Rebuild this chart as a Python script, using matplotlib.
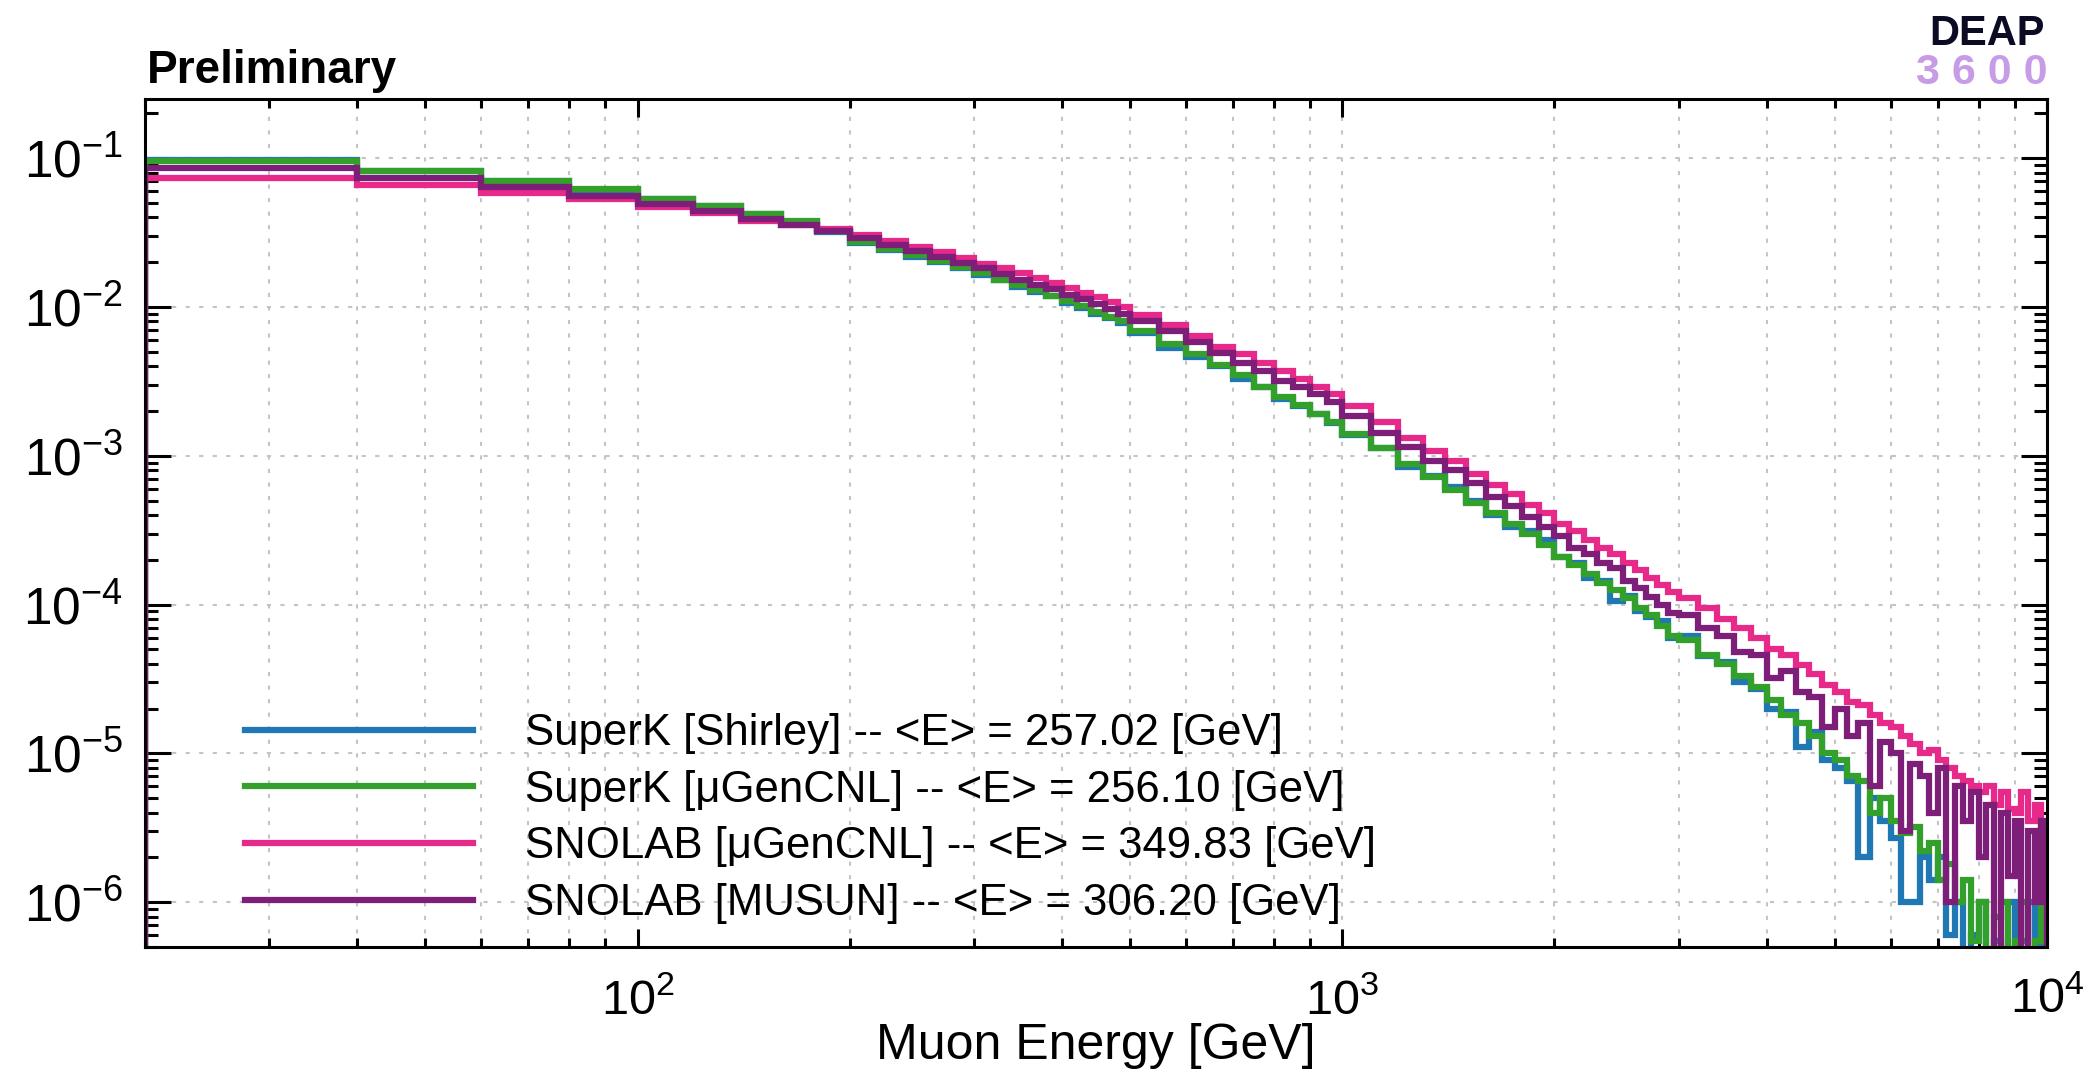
import numpy as np
import matplotlib
matplotlib.use("Agg")
import matplotlib.pyplot as plt
from matplotlib.lines import Line2D
from matplotlib.ticker import LogLocator, NullFormatter, LogFormatterSciNotation

plt.rcParams['font.family'] = ['Liberation Sans', 'DejaVu Sans']
plt.rcParams['mathtext.fontset'] = 'custom'
plt.rcParams['mathtext.rm'] = 'Liberation Sans'
plt.rcParams['mathtext.it'] = 'Liberation Sans:italic'
plt.rcParams['mathtext.bf'] = 'Liberation Sans:bold'

# -------------------------------------------------------
# Data: normalised muon energy spectra
# -------------------------------------------------------
# bin edges [GeV]: 20 GeV bins to 500, 50 to 1000, 100 to 3000, 200 to 10000
edges = np.concatenate([np.arange(20, 500, 20), np.arange(500, 1000, 50),
                        np.arange(1000, 3000, 100), np.arange(3000, 10001, 200)])

superk_shirley = [
    0.097, 0.0825, 0.0705, 0.0615, 0.0536, 0.0476, 0.0422, 0.0374, 0.0318, 0.0268,
    0.0243, 0.0218, 0.0200, 0.0182, 0.0165, 0.0152, 0.0137, 0.0127, 0.0118, 0.0106,
    0.0098, 0.0090, 0.0084, 0.0078,
    0.0067, 0.0053, 0.0046, 0.0040, 0.0033, 0.0029, 0.0024, 0.00215, 0.0019, 0.00165,
    0.00137, 0.00113, 0.00084, 0.00073, 0.00062, 0.00050, 0.00040, 0.00033, 0.00031, 0.00027,
    0.00021, 0.00019, 0.000150, 0.000145, 0.000105, 0.000115, 0.000090, 0.000082, 0.000078, 0.000060,
    6.2e-5, 4.5e-5, 4.1e-5, 3.0e-5, 2.7e-5, 2.0e-5, 1.9e-5, 1.1e-5, 1.4e-5, 9.0e-6,
    8.0e-6, 6.5e-6, 2.0e-6, 5.0e-6, 3.5e-6, 2.7e-6, 1.0e-6, 1.0e-6, 2.0e-6, 1.4e-6,
    2.0e-6, 6.0e-7, 1.0e-6, 0, 6.0e-7, 1.0e-6, 0, 5.5e-7, 0, 1.0e-6,
    0, 5.5e-7, 1.0e-6, 0, 5.5e-7,
]
superk_mugen = [
    0.0955, 0.0822, 0.0705, 0.0617, 0.0536, 0.0476, 0.0423, 0.0376, 0.0325, 0.0273,
    0.0246, 0.0225, 0.0204, 0.0185, 0.0168, 0.0153, 0.0141, 0.0130, 0.0119, 0.0109,
    0.0102, 0.0093, 0.0086, 0.0080,
    0.0069, 0.0056, 0.0048, 0.0041, 0.0035, 0.0029, 0.0025, 0.0022, 0.0019, 0.00168,
    0.00140, 0.00112, 0.00088, 0.00072, 0.00059, 0.00048, 0.00041, 0.00035, 0.00030, 0.00025,
    0.00021, 0.000185, 0.000160, 0.000140, 0.000125, 0.000110, 0.000095, 0.000085, 0.000072, 0.000062,
    5.8e-5, 4.6e-5, 4.0e-5, 3.3e-5, 2.8e-5, 2.3e-5, 1.8e-5, 1.6e-5, 1.3e-5, 1.0e-5,
    9.0e-6, 7.0e-6, 6.5e-6, 4.0e-6, 5.0e-6, 3.5e-6, 2.9e-6, 3.2e-6, 2.2e-6, 2.5e-6,
    1.4e-6, 1.8e-6, 1.0e-6, 1.4e-6, 5.5e-7, 1.0e-6, 0, 8.0e-7, 1.0e-6, 0,
    5.5e-7, 1.0e-6, 0, 5.5e-7, 1.0e-6,
]
snolab_mugen = [
    0.0738, 0.0660, 0.0585, 0.0528, 0.0467, 0.0426, 0.0380, 0.0357, 0.0334, 0.0303,
    0.0277, 0.0254, 0.0233, 0.0213, 0.0196, 0.0182, 0.0168, 0.0156, 0.0144, 0.0135,
    0.0125, 0.0117, 0.0108, 0.0100,
    0.0088, 0.0076, 0.0064, 0.0054, 0.0048, 0.0042, 0.0037, 0.0033, 0.0029, 0.0026,
    0.00215, 0.00168, 0.00132, 0.00108, 0.00092, 0.00076, 0.00064, 0.00055, 0.00047, 0.00041,
    0.00035, 0.00031, 0.00027, 0.00024, 0.00022, 0.00019, 0.00017, 0.000152, 0.000136, 0.000122,
    1.10e-4, 9.5e-5, 8.0e-5, 7.0e-5, 6.0e-5, 5.0e-5, 4.6e-5, 3.9e-5, 3.4e-5, 2.9e-5,
    2.6e-5, 2.2e-5, 2.1e-5, 1.8e-5, 1.6e-5, 1.5e-5, 1.3e-5, 1.15e-5, 1.0e-5, 1.05e-5,
    9.0e-6, 8.0e-6, 7.0e-6, 6.5e-6, 6.0e-6, 5.5e-6, 6.0e-6, 4.5e-6, 5.5e-6, 4.2e-6,
    4.0e-6, 5.5e-6, 3.5e-6, 4.5e-6, 3.0e-6,
]
snolab_musun = [
    0.0853, 0.0734, 0.0636, 0.0556, 0.0494, 0.0441, 0.0390, 0.0355, 0.0324, 0.0289,
    0.0263, 0.0238, 0.0218, 0.0198, 0.0182, 0.0166, 0.0153, 0.0141, 0.0132, 0.0120,
    0.0113, 0.0104, 0.0097, 0.0090,
    0.0081, 0.0069, 0.0058, 0.0049, 0.0042, 0.0037, 0.0032, 0.0029, 0.0026, 0.0023,
    0.00185, 0.00142, 0.00114, 0.00093, 0.00080, 0.00066, 0.00053, 0.00046, 0.00039, 0.00033,
    0.00029, 0.00024, 0.00022, 0.00019, 0.000175, 0.000145, 0.000130, 0.000112, 0.000100, 0.000088,
    8.5e-5, 7.0e-5, 6.2e-5, 4.8e-5, 4.6e-5, 3.2e-5, 3.6e-5, 2.6e-5, 2.4e-5, 1.5e-5,
    2.0e-5, 1.3e-5, 1.6e-5, 6.0e-6, 1.2e-5, 1.0e-5, 3.0e-6, 8.5e-6, 7.0e-6, 4.0e-6,
    8.0e-6, 1.0e-6, 6.0e-6, 3.5e-6, 5.5e-6, 2.0e-6, 4.5e-6, 0, 4.0e-6, 1.5e-6,
    3.5e-6, 0, 3.0e-6, 1.0e-6, 3.5e-6,
]

labels = ['SuperK [Shirley] -- <E> = 257.02 [GeV]',
          'SuperK [\u03bcGenCNL] -- <E> = 256.10 [GeV]',
          'SNOLAB [\u03bcGenCNL] -- <E> = 349.83 [GeV]',
          'SNOLAB [MUSUN] -- <E> = 306.20 [GeV]']
colors = ['#1f78b4', '#33a02c', '#e7298a', '#7d1f78']
series = [superk_shirley, superk_mugen, snolab_mugen, snolab_musun]

# -------------------------------------------------------
# Figure
# -------------------------------------------------------
W, H = 2099, 1070
fig = plt.figure(figsize=(W / 100, H / 100), dpi=100)
ax = fig.add_axes([145 / W, 1 - 947 / H, 1902 / W, 848 / H])

for vals, col in zip(series, colors):
    ax.stairs(vals, edges, baseline=1e-12, color=col, linewidth=4.5,
              joinstyle='miter')

ax.set_xscale('log')
ax.set_yscale('log')
ax.set_xlim(20, 1e4)
ax.set_ylim(5e-7, 0.25)

ax.xaxis.set_major_locator(LogLocator(base=10, numticks=10))
ax.xaxis.set_minor_locator(LogLocator(base=10, subs=np.arange(2, 10), numticks=30))
ax.yaxis.set_major_locator(LogLocator(base=10, numticks=12))
ax.yaxis.set_minor_locator(LogLocator(base=10, subs=np.arange(2, 10), numticks=30))
ax.xaxis.set_major_formatter(LogFormatterSciNotation())
ax.yaxis.set_major_formatter(LogFormatterSciNotation())
ax.xaxis.set_minor_formatter(NullFormatter())
ax.yaxis.set_minor_formatter(NullFormatter())

ax.tick_params(axis='both', which='both', direction='in', top=True, right=True,
               width=2.2)
ax.tick_params(axis='y', which='major', length=19, pad=16, labelsize=37)
ax.tick_params(axis='y', which='minor', length=9.5)
ax.tick_params(axis='x', which='major', length=13, pad=22, labelsize=35)
ax.tick_params(axis='x', which='minor', length=6.5)
for sp in ax.spines.values():
    sp.set_linewidth(2.2)

grid_style = dict(color='#c4c4c4', linestyle=(0, (2, 4.5)), linewidth=1.5)
ax.grid(True, axis='x', which='both', **grid_style)
ax.grid(True, axis='y', which='major', **grid_style)
ax.set_axisbelow(True)

ax.set_xlabel('Muon Energy [GeV]', fontsize=36, ha='right', va='center')
ax.xaxis.set_label_coords((1316 - 145) / 1902, (947 - 1046) / 848)

handles = [Line2D([], [], color=c, linewidth=4.5) for c in colors]
ax.legend(handles, labels, loc='upper left', bbox_to_anchor=(0.0526, 0.276),
          frameon=False, fontsize=31.5, handlelength=5.2, handletextpad=1.2,
          labelspacing=0.36, borderaxespad=0, borderpad=0)

fig.text(147 / W, 1 - 83 / H, 'Preliminary', fontsize=33, fontweight='bold',
         va='baseline', ha='left')
fig.text(2045 / W, 1 - 45 / H, 'DEAP', fontsize=30, fontweight='bold',
         color='#0b0b24', va='baseline', ha='right')
fig.text(2048 / W, 1 - 84 / H, '3 6 0 0', fontsize=31, fontweight='bold',
         color='#c89be6', va='baseline', ha='right')

fig.savefig('out.png', dpi=100)
